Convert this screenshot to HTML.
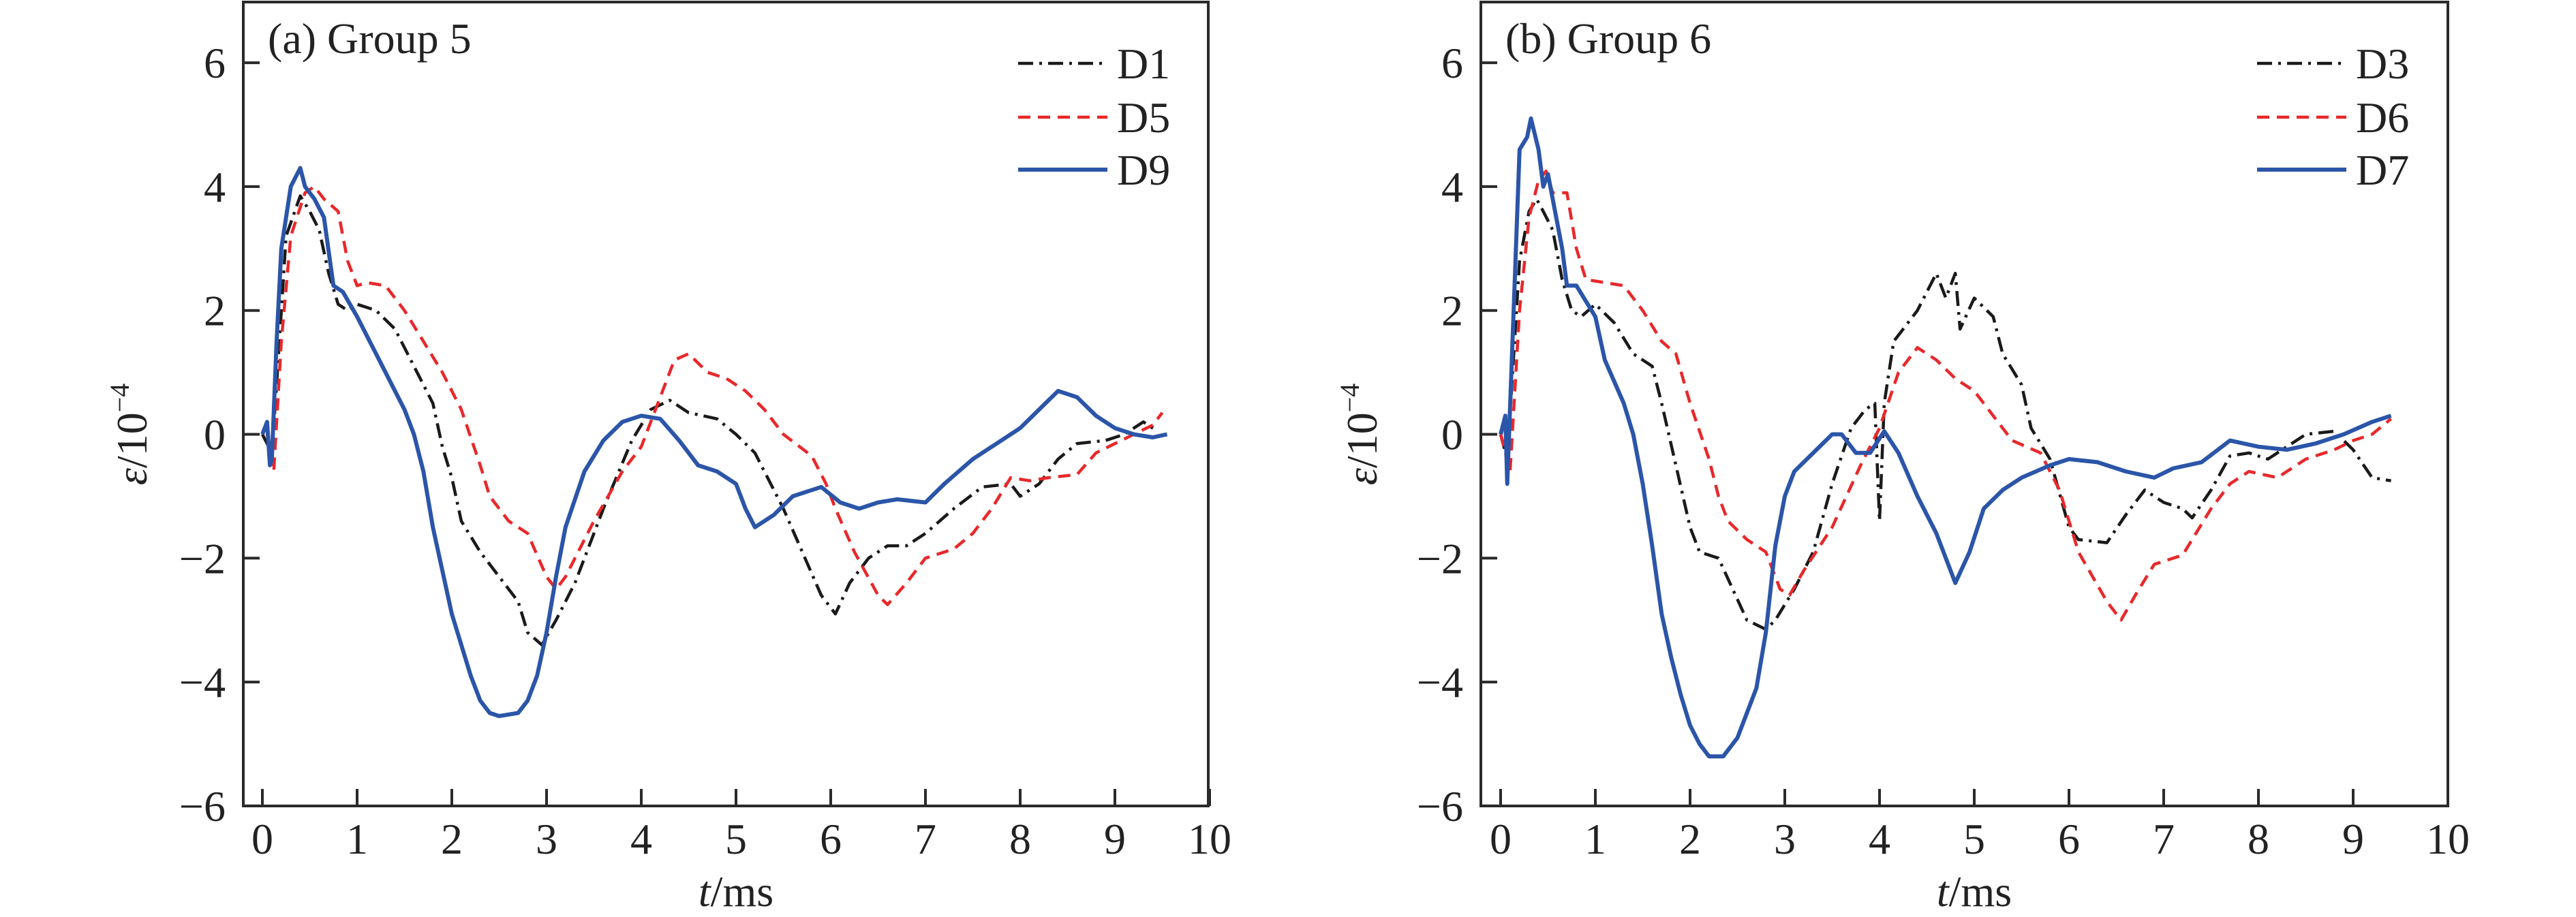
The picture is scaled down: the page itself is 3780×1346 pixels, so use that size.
<!DOCTYPE html>
<html><head><meta charset="utf-8"><style>
html,body{margin:0;padding:0;background:#fff;}
svg{display:block;font-family:"Liberation Serif",serif;}
</style></head><body>
<svg id="chart" width="3780" height="1346" viewBox="0 0 3780 1346" xmlns="http://www.w3.org/2000/svg"></svg>
<script>
const xTicks=[0,1,2,3,4,5,6,7,8,9,10];
const yTicks=[-6,-4,-2,0,2,4,6];
const yTickLabels=["−6","−4","−2","0","2","4","6"];
const panelTitles=["(a) Group 5","(b) Group 6"];
const seriesNamesA=["D1","D5","D9"];
const seriesNamesB=["D3","D6","D7"];
// panel a
const tD1=[0,0.1,0.15,0.25,0.4,0.5,0.6,0.7,0.8,0.9,1.0,1.2,1.4,1.6,1.8,1.9,2.0,2.1,2.3,2.5,2.7,2.8,2.95,3.1,3.3,3.6,3.9,4.1,4.3,4.5,4.8,5.0,5.2,5.5,5.7,5.9,6.05,6.2,6.4,6.6,6.8,7.0,7.3,7.6,7.9,8.0,8.2,8.4,8.6,8.9,9.1,9.3,9.45];
const vD1=[0,-0.3,0.8,3.2,3.85,3.6,3.3,2.6,2.1,2.0,2.1,2.0,1.7,1.1,0.5,-0.2,-0.7,-1.4,-1.9,-2.3,-2.7,-3.2,-3.4,-3.0,-2.4,-1.2,-0.1,0.4,0.55,0.35,0.25,0.0,-0.3,-1.2,-1.9,-2.6,-2.9,-2.4,-2.0,-1.8,-1.8,-1.6,-1.2,-0.85,-0.8,-1.0,-0.8,-0.4,-0.15,-0.1,0.0,0.2,0.05];
const tD5=[0.05,0.12,0.2,0.3,0.45,0.55,0.65,0.8,0.9,1.0,1.1,1.3,1.5,1.7,1.9,2.1,2.3,2.4,2.5,2.6,2.8,3.0,3.1,3.2,3.5,3.8,4.0,4.2,4.35,4.5,4.7,4.9,5.1,5.3,5.5,5.8,5.95,6.05,6.25,6.5,6.6,6.8,7.0,7.3,7.5,7.7,7.9,8.1,8.3,8.6,8.8,9.0,9.2,9.4,9.5];
const vD5=[0,-0.6,1.5,3.2,3.9,4.0,3.8,3.6,2.8,2.4,2.45,2.4,2.0,1.5,1.0,0.4,-0.5,-1.0,-1.2,-1.4,-1.6,-2.3,-2.5,-2.3,-1.4,-0.6,-0.2,0.6,1.2,1.3,1.0,0.9,0.7,0.4,0.0,-0.35,-0.8,-1.2,-1.9,-2.6,-2.75,-2.4,-2.0,-1.85,-1.6,-1.2,-0.7,-0.75,-0.7,-0.65,-0.3,-0.15,0.0,0.15,0.35];
const tD9=[0,0.05,0.08,0.1,0.15,0.2,0.3,0.4,0.45,0.55,0.65,0.75,0.85,1.0,1.2,1.4,1.5,1.6,1.7,1.8,1.9,2.0,2.1,2.2,2.3,2.4,2.5,2.7,2.8,2.9,3.0,3.1,3.2,3.4,3.6,3.8,4.0,4.2,4.4,4.6,4.8,5.0,5.1,5.2,5.4,5.6,5.8,5.9,6.1,6.3,6.5,6.7,7.0,7.2,7.5,7.8,8.0,8.2,8.4,8.6,8.8,9.0,9.2,9.4,9.55];
const vD9=[0,0.2,-0.5,-0.4,1.5,3.0,4.0,4.3,4.0,3.8,3.5,2.4,2.3,1.9,1.3,0.7,0.4,0.0,-0.6,-1.5,-2.2,-2.9,-3.4,-3.9,-4.3,-4.5,-4.55,-4.5,-4.3,-3.9,-3.2,-2.3,-1.5,-0.6,-0.1,0.2,0.3,0.25,-0.1,-0.5,-0.6,-0.8,-1.2,-1.5,-1.3,-1.0,-0.9,-0.85,-1.1,-1.2,-1.1,-1.05,-1.1,-0.8,-0.4,-0.1,0.1,0.4,0.7,0.6,0.3,0.1,0.0,-0.05,0.0];
// panel b
const tD3=[0,0.07,0.2,0.3,0.38,0.45,0.55,0.65,0.75,0.85,1.0,1.2,1.4,1.6,1.7,1.85,2.0,2.1,2.3,2.45,2.6,2.8,2.9,3.1,3.3,3.5,3.7,3.85,3.95,4.0,4.05,4.15,4.3,4.4,4.5,4.6,4.7,4.8,4.85,5.0,5.2,5.3,5.5,5.6,5.8,6.0,6.1,6.4,6.6,6.8,7.0,7.2,7.3,7.5,7.7,7.9,8.1,8.3,8.5,8.8,9.0,9.2,9.4];
const vD3=[0,-0.4,2.8,3.6,3.8,3.6,3.3,2.5,2.0,1.9,2.1,1.8,1.3,1.1,0.5,-0.5,-1.5,-1.9,-2.0,-2.5,-3.0,-3.15,-3.0,-2.5,-1.9,-0.8,0.1,0.4,0.5,-1.4,0.5,1.5,1.8,2.0,2.3,2.6,2.2,2.6,1.7,2.2,1.9,1.3,0.8,0.1,-0.4,-1.5,-1.7,-1.75,-1.3,-0.9,-1.1,-1.2,-1.35,-0.9,-0.35,-0.3,-0.4,-0.2,0.0,0.05,-0.25,-0.7,-0.75];
const tD6=[0,0.1,0.2,0.3,0.4,0.48,0.55,0.7,0.8,0.9,1.1,1.3,1.5,1.7,1.85,2.0,2.2,2.3,2.4,2.6,2.8,2.95,3.05,3.2,3.5,3.8,4.0,4.2,4.4,4.6,4.8,5.0,5.2,5.4,5.7,5.9,6.1,6.4,6.55,6.7,6.9,7.2,7.5,7.7,7.9,8.2,8.5,8.8,9.0,9.2,9.4];
const vD6=[0,-0.6,2.0,3.5,4.1,4.25,3.9,3.9,3.0,2.5,2.45,2.4,2.0,1.5,1.3,0.5,-0.4,-1.0,-1.4,-1.7,-1.9,-2.5,-2.6,-2.2,-1.5,-0.5,0.1,1.0,1.4,1.2,0.9,0.7,0.3,-0.1,-0.3,-0.9,-1.9,-2.7,-3.0,-2.6,-2.1,-1.95,-1.2,-0.8,-0.6,-0.7,-0.4,-0.25,-0.1,0.0,0.25];
const tD7=[0,0.05,0.07,0.15,0.2,0.28,0.32,0.4,0.45,0.5,0.55,0.65,0.7,0.8,1.0,1.1,1.3,1.4,1.5,1.6,1.7,1.8,1.9,2.0,2.1,2.2,2.35,2.5,2.6,2.7,2.8,2.9,3.0,3.1,3.3,3.5,3.6,3.75,3.9,4.05,4.2,4.4,4.6,4.8,4.95,5.1,5.3,5.5,5.8,6.0,6.3,6.6,6.9,7.1,7.4,7.7,8.0,8.3,8.6,8.9,9.2,9.4];
const vD7=[0,0.3,-0.8,2.5,4.6,4.8,5.1,4.6,4.0,4.2,3.8,3.0,2.4,2.4,1.9,1.2,0.5,0.0,-0.8,-1.8,-2.9,-3.6,-4.2,-4.7,-5.0,-5.2,-5.2,-4.9,-4.5,-4.1,-3.2,-1.8,-1.0,-0.6,-0.3,0.0,0.0,-0.3,-0.3,0.05,-0.3,-1.0,-1.6,-2.4,-1.9,-1.2,-0.9,-0.7,-0.5,-0.4,-0.45,-0.6,-0.7,-0.55,-0.45,-0.1,-0.2,-0.25,-0.15,0.0,0.2,0.3];

const NS="http://www.w3.org/2000/svg";
const svg=document.getElementById('chart');
function mk(tag,attrs,parent){const e=document.createElementNS(NS,tag);for(const k in attrs)e.setAttribute(k,attrs[k]);(parent||svg).appendChild(e);return e;}
const styles=[{c:"#1a1a1a",w:4.5,d:"22,9,4,9"},{c:"#e8282a",w:4.5,d:"18,11"},{c:"#2b55a8",w:6,d:""}];
const panels=[
 {left:357,right:1773,x0:385,title:panelTitles[0],names:seriesNamesA,data:[[tD1,vD1],[tD5,vD5],[tD9,vD9]],legX:1494,ylabX:215,key:"a"},
 {left:2173,right:3592,x0:2202,title:panelTitles[1],names:seriesNamesB,data:[[tD3,vD3],[tD6,vD6],[tD7,vD7]],legX:3312,ylabX:2020,key:"b"}
];
const plotTop=3,plotBottom=1183,y0px=637.5,pxPerY=90.9,pxPerX=139;
panels.forEach(p=>{
 const X=t=>p.x0+t*pxPerX, Y=v=>y0px-v*pxPerY;
 const g=mk('g',{});
 
 
 const series=mk('g',{},g);
 
 
 p.data.forEach((s,i)=>{
  const pts=s[0].map((t,j)=>X(t).toFixed(1)+','+Y(s[1][j]).toFixed(1)).join(' ');
  const pl=mk('polyline',{points:pts,fill:'none',stroke:styles[i].c,'stroke-width':styles[i].w,'stroke-dasharray':styles[i].d||'none','stroke-linejoin':'round'},series);
  
  
 });
 const frame=mk('rect',{x:p.left,y:plotTop,width:p.right-p.left,height:plotBottom-plotTop,fill:'none',stroke:'#2a2a2a','stroke-width':4},g);
 
 
 xTicks.forEach(t=>{
  const x=X(t);
  const tk=mk('line',{x1:x,x2:x,y1:plotBottom,y2:plotBottom-25,stroke:'#2a2a2a','stroke-width':4},g);
  
  
  const tl=mk('text',{x:x,y:1253,'font-size':64,'text-anchor':'middle',fill:'#222'},g);
  tl.textContent=String(t);
  
  
 });
 yTicks.forEach((v,i)=>{
  const y=Y(v);
  const tk=mk('line',{x1:p.left,x2:p.left+24,y1:y,y2:y,stroke:'#2a2a2a','stroke-width':4},g);
  
  
  const tl=mk('text',{x:p.left-26,y:y+22,'font-size':64,'text-anchor':'end',fill:'#222'},g);
  tl.textContent=yTickLabels[i];
  
  
 });
 const xl=mk('text',{x:X(5),y:1330,'font-size':64,'text-anchor':'middle',fill:'#222'},g);
 xl.innerHTML='<tspan font-style="italic">t</tspan>/ms';
 
 
 const yl=mk('text',{x:0,y:0,'font-size':64,'text-anchor':'middle',fill:'#222',transform:`translate(${p.ylabX},${y0px}) rotate(-90)`},g);
 yl.innerHTML='<tspan font-style="italic">ε</tspan>/10<tspan font-size="40" dy="-26">−4</tspan>';
 
 
 const tt=mk('text',{x:p.left+36,y:78,'font-size':64,fill:'#222'},g);
 tt.textContent=p.title;
 
 
 const legY=[93,172,249];
 p.names.forEach((n,i)=>{
  const le=mk('g',{},g);
  
  
  mk('line',{x1:p.legX,x2:p.legX+131,y1:legY[i],y2:legY[i],stroke:styles[i].c,'stroke-width':styles[i].w,'stroke-dasharray':styles[i].d||'none'},le);
  const lt=mk('text',{x:p.legX+145,y:legY[i]+22,'font-size':64,fill:'#222'},le);
  lt.textContent=n;
 });
});
</script>
</body></html>
